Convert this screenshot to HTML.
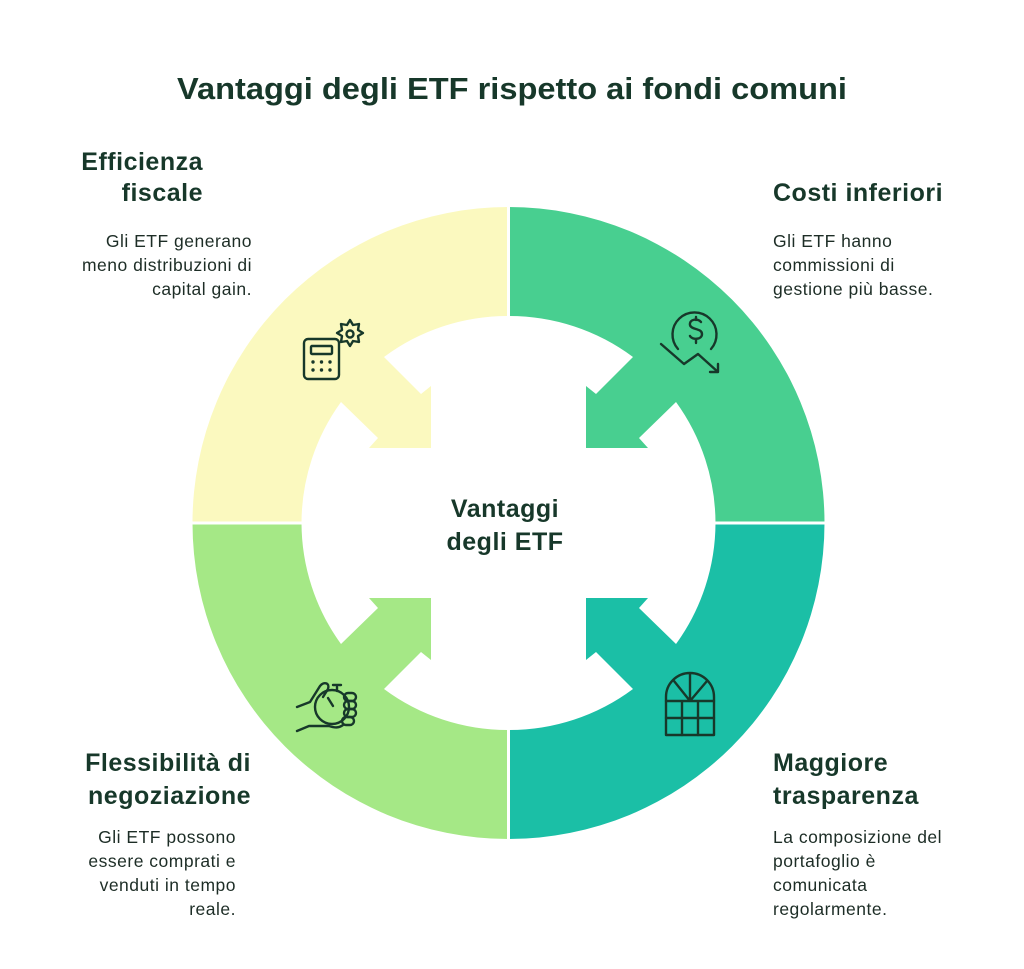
<!DOCTYPE html>
<html><head><meta charset="utf-8"><style>
html,body{margin:0;padding:0;background:#fff;}
svg{display:block;font-family:"Liberation Sans",sans-serif;}
</style></head><body>
<svg width="1024" height="969" viewBox="0 0 1024 969" xmlns="http://www.w3.org/2000/svg">
<defs>
<path id="q" d="M192.5,523 A316 316 0 0 1 508.5,207 L508.5,316 A207 207 0 0 0 384,357 L421,394 L431,386 L431,448 L369,448 L378,438 L341,402 A207 207 0 0 0 301.5,523 Z"/>
</defs>
<use href="#q" fill="#FBF9BF"/>
<use href="#q" fill="#48CF90" transform="translate(1017,0) scale(-1,1)"/>
<use href="#q" fill="#A5E886" transform="translate(0,1046) scale(1,-1)"/>
<use href="#q" fill="#1BBFA6" transform="translate(1017,1046) scale(-1,-1)"/>
<line x1="508.5" y1="200" x2="508.5" y2="845" stroke="#fff" stroke-width="3"/>
<line x1="185" y1="523" x2="830" y2="523" stroke="#fff" stroke-width="3"/>

<g fill="#17382a" font-weight="bold" font-size="25" letter-spacing="0.5">
<text x="512" y="99" text-anchor="middle" font-size="31" letter-spacing="0" textLength="670" lengthAdjust="spacingAndGlyphs">Vantaggi degli ETF rispetto ai fondi comuni</text>
<text x="203" y="170" text-anchor="end">Efficienza</text>
<text x="203" y="201" text-anchor="end">fiscale</text>
<text x="773" y="201">Costi inferiori</text>
<text x="251" y="771" text-anchor="end">Flessibilità di</text>
<text x="251" y="804" text-anchor="end">negoziazione</text>
<text x="773" y="771">Maggiore</text>
<text x="773" y="804">trasparenza</text>
<text x="505" y="517" text-anchor="middle">Vantaggi</text>
<text x="505" y="550" text-anchor="middle">degli ETF</text>
</g>
<g fill="#1d2d26" font-size="17.5" letter-spacing="0.5">
<text x="252" y="247" text-anchor="end">Gli ETF generano</text>
<text x="252" y="271" text-anchor="end">meno distribuzioni di</text>
<text x="252" y="295" text-anchor="end">capital gain.</text>
<text x="773" y="247">Gli ETF hanno</text>
<text x="773" y="271">commissioni di</text>
<text x="773" y="295">gestione più basse.</text>
<text x="236" y="843" text-anchor="end">Gli ETF possono</text>
<text x="236" y="867" text-anchor="end">essere comprati e</text>
<text x="236" y="891" text-anchor="end">venduti in tempo</text>
<text x="236" y="915" text-anchor="end">reale.</text>
<text x="773" y="843">La composizione del</text>
<text x="773" y="867">portafoglio è</text>
<text x="773" y="891">comunicata</text>
<text x="773" y="915">regolarmente.</text>
</g>

<g fill="#17382a">
<circle cx="313" cy="362" r="1.7"/><circle cx="321.5" cy="362" r="1.7"/><circle cx="330" cy="362" r="1.7"/>
<circle cx="313" cy="370" r="1.7"/><circle cx="321.5" cy="370" r="1.7"/><circle cx="330" cy="370" r="1.7"/>
</g>
<g fill="none" stroke="#17382a" stroke-width="2.4" stroke-linecap="round" stroke-linejoin="round">
<rect x="304" y="339" width="35" height="40" rx="4"/>
<rect x="311" y="346" width="21" height="8" rx="1"/>
<circle cx="350" cy="334" r="3.5"/>
<path d="M350,320 l3,5 6,-1 -1,6 5,3 -5,3 1,6 -6,-1 -3,5 -3,-5 -6,1 1,-6 -5,-3 5,-3 -1,-6 6,1 z"/>
<path d="M678,349 A22 22 0 1 1 711,349"/>
<path d="M701,322 c-3,-4 -12,-3 -11,3 c1,5 12,3 12,9 c0,6 -10,6 -12,2 M696,317 v3 M696,340 v3"/>
<path d="M661,344 L684,364 L698,354 L718,372 M710,372 h8 v-8"/>
<circle cx="332" cy="707" r="17"/>
<path d="M328,698 l5,8 M337,687 v4 M333,685 h8"/>
<path d="M297,707 l13,-5 10,-16 c4,-5 10,-3 8,3 l-5,8"/>
<path d="M297,731 l12,-5 h20 c6,2 10,2 14,-1"/>
<rect x="344" y="693" width="12" height="8" rx="4"/>
<rect x="344" y="701" width="12" height="8" rx="4"/>
<rect x="344" y="709" width="12" height="8" rx="4"/>
<rect x="342" y="717" width="12" height="8" rx="4"/>
<path d="M666,735 V697 A24 24 0 0 1 714,697 V735 Z"/>
<path d="M666,701 H714 M666,718 H714 M682,701 V735 M698,701 V735 M690,674 V701 L674,681 M690,701 L707,681"/>
</g>
</svg>
</body></html>
